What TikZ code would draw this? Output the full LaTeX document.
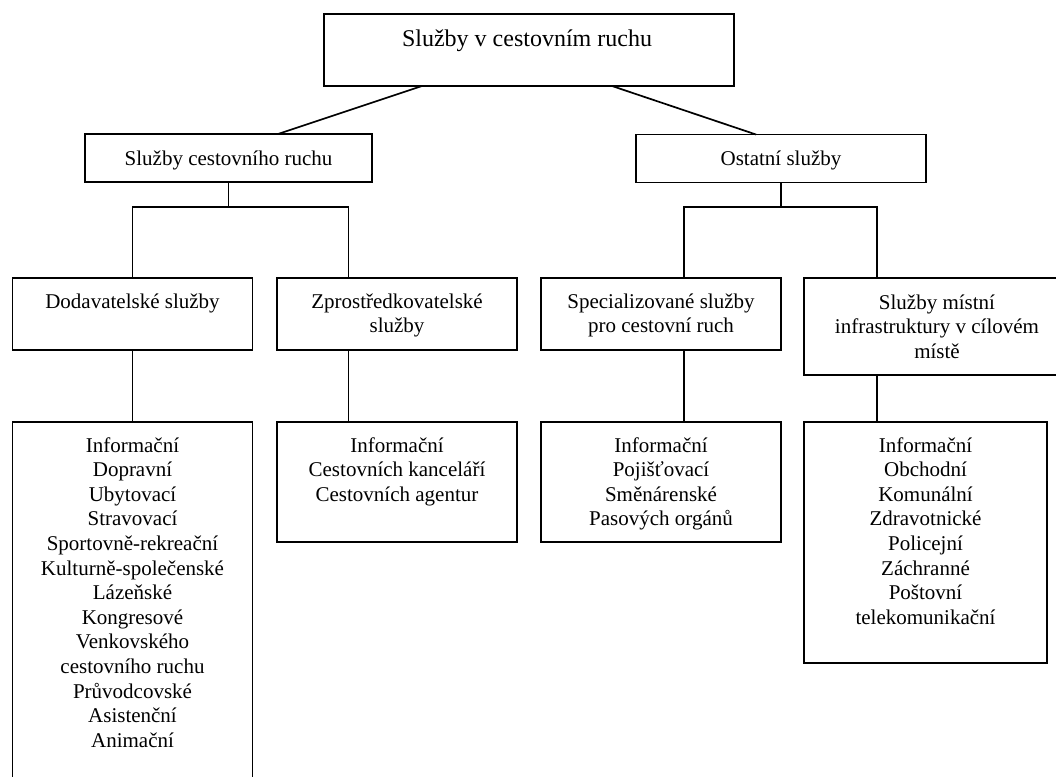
\documentclass[tikz,border=0pt]{standalone}
\usepackage{fontspec}
\setmainfont{Liberation Serif}
\tikzset{
  box/.style={draw, line width=1.7pt, inner sep=0pt, outer sep=0pt, rectangle},
  conn/.style={line width=1.7pt},
  txt/.style={align=center, anchor=base, inner sep=0pt, font=\fontsize{21}{24.6}\selectfont},
  ttl/.style={align=center, anchor=base, inner sep=0pt, font=\fontsize{24}{28}\selectfont}
}
\begin{document}
\begin{tikzpicture}[x=1pt,y=-1pt]
\useasboundingbox (0,0) rectangle (1056,776);
\clip (0,0) rectangle (1056,776);
% boxes
\node[box, minimum width=410pt, minimum height=72pt] (top) at (529,50) {};
\node[box, minimum width=287pt, minimum height=48pt] (sc) at (228.5,158) {};
\node[box, minimum width=290pt, minimum height=48pt] (os) at (781,158.5) {};
\node[box, minimum width=240pt, minimum height=72pt] (dod) at (132.5,314) {};
\node[box, minimum width=240pt, minimum height=72pt] (zpr) at (397,314) {};
\node[box, minimum width=240pt, minimum height=72pt] (spec) at (661,314) {};
\node[box, minimum width=266pt, minimum height=97pt] (mist) at (937,326.5) {};
\node[box, minimum width=240pt, minimum height=378pt] (dodL) at (132.5,611) {};
\node[box, minimum width=240pt, minimum height=120pt] (zprL) at (397,482) {};
\node[box, minimum width=240pt, minimum height=120pt] (specL) at (661,482) {};
\node[box, minimum width=243pt, minimum height=241pt] (mistL) at (925.5,542.5) {};
% texts (anchor = baseline of the last line)
\node[ttl] (t0) at (527,47) {Služby v cestovním ruchu};
\node[txt] (t1) at (228.5,165) {Služby cestovního ruchu};
\node[txt] (t2) at (781,165) {Ostatní služby};
\node[txt] (t3) at (132.5,308) {Dodavatelské služby};
\node[txt] (t4) at (397,332.6) {Zprostředkovatelské\\služby};
\node[txt] (t5) at (661,332.6) {Specializované služby\\pro cestovní ruch};
\node[txt] (t6) at (937,358.2) {Služby místní\\infrastruktury v cílovém\\místě};
\node[txt] (t7) at (132.5,747.2) {Informační\\Dopravní\\Ubytovací\\Stravovací\\Sportovně-rekreační\\Kulturně-společenské\\Lázeňské\\Kongresové\\Venkovského\\cestovního ruchu\\Průvodcovské\\Asistenční\\Animační};
\node[txt] (t8) at (397,501.2) {Informační\\Cestovních kanceláří\\Cestovních agentur};
\node[txt] (t9) at (661,525.8) {Informační\\Pojišťovací\\Směnárenské\\Pasových orgánů};
\node[txt] (t10) at (925.5,624.2) {Informační\\Obchodní\\Komunální\\Zdravotnické\\Policejní\\Záchranné\\Poštovní\\telekomunikační};
% connectors
\draw[conn] ([xshift=-107pt]top.south) -- ([xshift=49.5pt]sc.north);
\draw[conn] ([xshift=83pt]top.south) -- ([xshift=-25pt]os.north);
\draw[conn] (sc.south) -- ++(0,25) coordinate (bl);
\draw[conn] (dod.north) |- (bl) -| ([xshift=-48.5pt]zpr.north);
\draw[conn] (os.south) -- ++(0,24.5) coordinate (br);
\draw[conn] ([xshift=23pt]spec.north) |- (br) -| ([xshift=-60pt]mist.north);
\draw[conn] (dod.south) -- (dodL.north);
\draw[conn] ([xshift=-48.5pt]zpr.south) -- ([xshift=-48.5pt]zprL.north);
\draw[conn] ([xshift=23pt]spec.south) -- ([xshift=23pt]specL.north);
\draw[conn] ([xshift=-60pt]mist.south) -- ([xshift=-48.5pt]mistL.north);
\end{tikzpicture}
\end{document}
